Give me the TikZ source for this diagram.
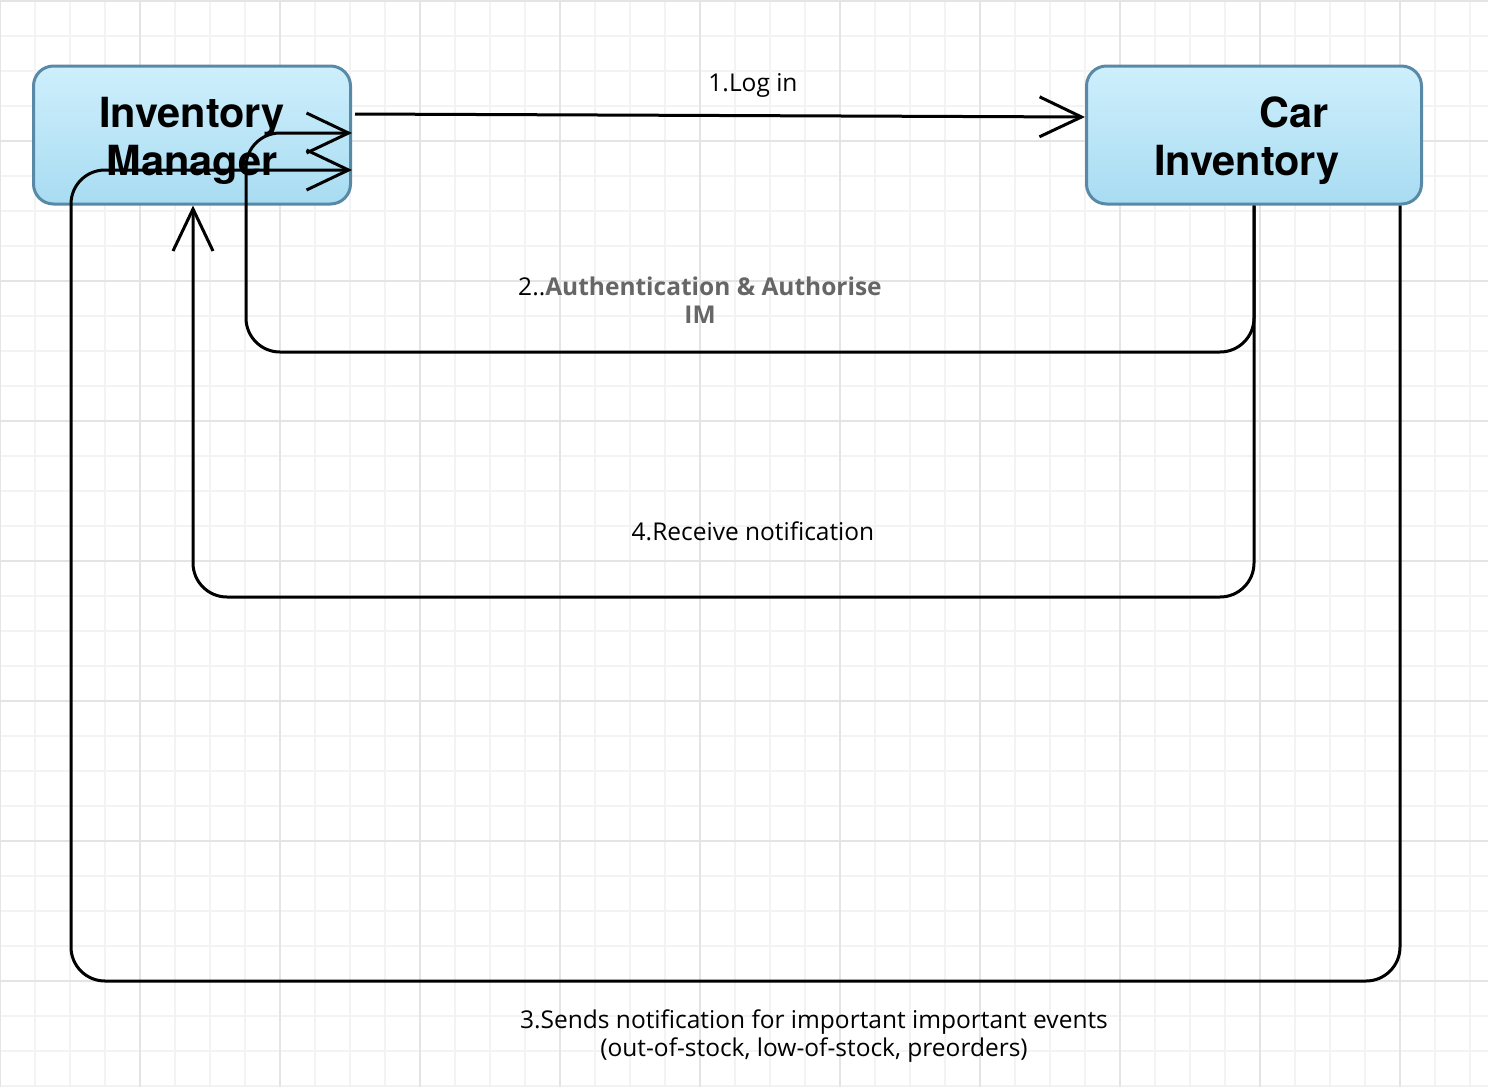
\documentclass[tikz,border=0pt]{standalone}
\usepackage{fontspec}
\setmainfont{Open Sans}
\newfontfamily\heros{TeX Gyre Heros}
\usetikzlibrary{arrows.meta}
\definecolor{box_top}{RGB}{206,239,252}
\definecolor{box_bot}{RGB}{168,220,242}
\definecolor{box_edge}{RGB}{88,138,168}
\definecolor{grid_minor}{RGB}{243,243,243}
\definecolor{grid_major}{RGB}{228,228,228}
\definecolor{note_gray}{RGB}{102,102,102}
\tikzstyle{cls}=[rectangle,rounded corners=20pt,top color=box_top,bottom color=box_bot,
  draw=box_edge,line width=3pt,minimum height=138pt,inner sep=0pt,align=center,
  font=\heros\bfseries\fontsize{41.5}{48}\selectfont]
\tikzstyle{ln}=[draw=black,line width=3pt,rounded corners=34pt,
  -{Straight Barb[length=42pt,width=40pt]}]
\tikzstyle{msg}=[align=center,inner sep=0pt,font=\fontsize{24.5}{28}\selectfont]
\tikzstyle{none}=[]

\begin{document}
\begin{tikzpicture}[x=1pt,y=-1pt]
            \useasboundingbox (0,0) rectangle (1488,1087);
            \fill[white] (0,0) rectangle (1488,1087);
            % grid
            \foreach \gx in {0,35,...,1470}
              \draw[grid_minor,line width=1.5pt] (\gx,0) -- (\gx,1087);
            \foreach \gy in {1,36,...,1087}
              \draw[grid_minor,line width=1.5pt] (0,\gy) -- (1488,\gy);
            \foreach \gx in {0,140,...,1400}
              \draw[grid_major,line width=1.5pt] (\gx,0) -- (\gx,1087);
            \foreach \gy in {1,141,...,981}
              \draw[grid_major,line width=1.5pt] (0,\gy) -- (1488,\gy);
            % boxes
            \node [style=cls, minimum width=317pt] (im) at (192, 135) {\rule{0pt}{43pt}Inventory\\Manager};
            \node [style=cls, minimum width=335pt] (ci) at (1254, 135) {\rule{0pt}{43pt}\hspace*{80pt}Car\\Inventory\hspace*{14pt}};
            % labels
            \node [style=msg] (m1) at (753, 85) {1.Log in};
            \node [style=msg] (m2) at (700, 300) {2..{\color{note_gray}\bfseries Authentication \& Authorise}\\{\color{note_gray}\bfseries IM}};
            \node [style=msg] (m3) at (814, 1036) {3.Sends notification for important important events\\(out-of-stock, low-of-stock, preorders)};
            \node [style=msg] (m4) at (753, 531) {4.Receive notification};
            % connectors
            \draw [style=ln] ([xshift=3pt, yshift=21pt]im.east) to ([yshift=18pt]ci.west);
            \draw [style=ln] (ci.south) |- (246, 352) |- ([yshift=2pt]im.east);
            \draw [style=ln] ([xshift=146pt]ci.south) |- (71, 981) |- ([yshift=-35pt]im.east);
            \draw [style=ln] (ci.south) |- (193, 597) -- ([xshift=1pt]im.south);
    \end{tikzpicture}
\end{document}
